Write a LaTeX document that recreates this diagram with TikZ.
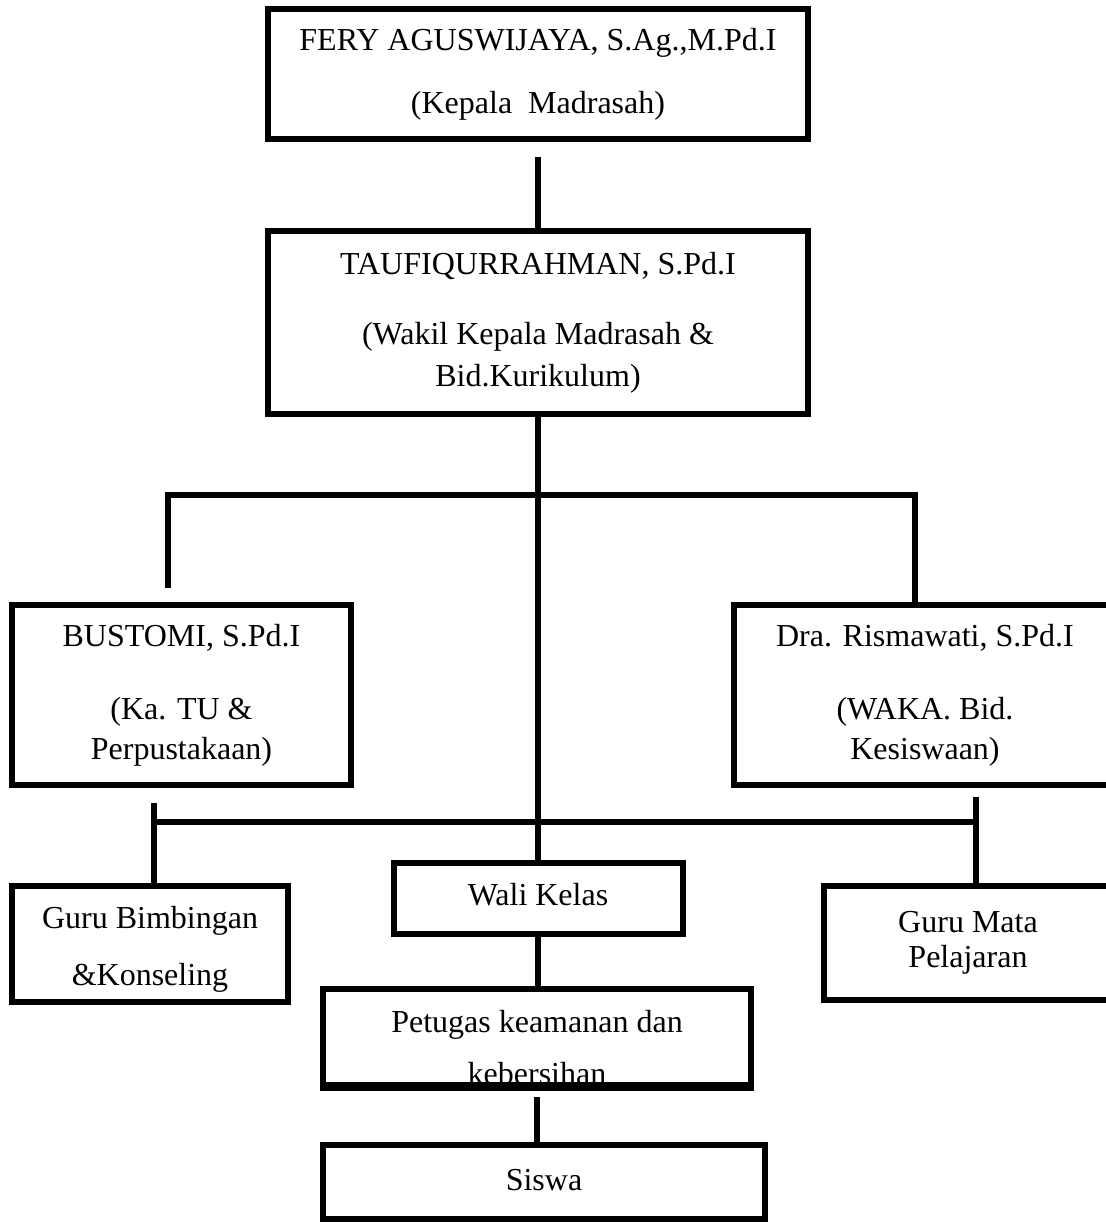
\documentclass[tikz,border=0pt]{standalone}
\usepackage{fontspec}
\setmainfont{Liberation Serif}
\newcommand{\orgfont}{\fontsize{16}{19}\selectfont}
\tikzset{
    orgbox/.style={draw, line width=3pt, align=center, inner sep=0pt, font=\orgfont},
    link/.style={line width=3pt}
}
\begin{document}
\begin{tikzpicture}[x=0.5pt, y=-0.5pt]
            \useasboundingbox (0, 0) rectangle (1105, 1222);

            % pimpinan
            \node[orgbox, minimum width=270pt, minimum height=65pt] (kepala) at (538, 74)
                {FERY AGUSWIJAYA, S.Ag.,M.Pd.I\\[12.5pt](Kepala~~Madrasah)};
            \node[orgbox, minimum width=270pt, minimum height=91.5pt] (wakil) at (538, 322.5)
                {TAUFIQURRAHMAN, S.Pd.I\\[16pt](Wakil Kepala Madrasah \&\\[2pt]Bid.Kurikulum)};

            % staf
            \node[orgbox, minimum width=169.5pt, minimum height=90pt] (tu) at (181.5, 695)
                {BUSTOMI, S.Pd.I\\[17.5pt](Ka. TU \&\\[1pt]Perpustakaan)};
            \node[orgbox, minimum width=191pt, minimum height=90pt] (kesiswaan) at (925, 695)
                {Dra. Rismawati, S.Pd.I\\[17.5pt](WAKA. Bid.\\[1pt]Kesiswaan)};

            % guru
            \node[orgbox, minimum width=138pt, minimum height=58pt] (bk) at (150, 944)
                {\rule{0pt}{16pt}Guru Bimbingan\\[9.5pt]\&Konseling};
            \node[orgbox, minimum width=144.5pt, minimum height=35.5pt] (walikelas) at (538, 898.5)
                {\rule[-4pt]{0pt}{4pt}Wali Kelas};
            \node[orgbox, minimum width=144pt, minimum height=57pt] (mapel) at (968, 943)
                {\rule[-3pt]{0pt}{3pt}Guru Mata\\[-1.5pt]Pelajaran};
            \node[orgbox, minimum width=214pt, minimum height=48pt] (petugas) at (537, 1037)
                {\rule{0pt}{22pt}Petugas keamanan dan\\[7pt]kebersihan};
            \draw[link] (petugas.south west) -- (petugas.south east);
            \node[orgbox, minimum width=221pt, minimum height=37pt] (siswa) at (544, 1182)
                {\rule[-2pt]{0pt}{2pt}Siswa};

            % garis
            \coordinate (kepalaGap) at (538, 157);
            \draw[link] (kepalaGap) -- (wakil.north);
            \draw[link] (wakil.south) -- (wakil.south |- walikelas.north);

            \coordinate (atasKiri) at (168, 495);
            \coordinate (atasKanan) at (915, 495);
            \coordinate (tuGap) at (168, 588);
            \draw[link] (tuGap) -- (atasKiri) -- (atasKanan) -- (atasKanan |- kesiswaan.north);

            \coordinate (bawahKiri) at (154, 822);
            \coordinate (bawahKanan) at (976, 822);
            \coordinate (tuGapBawah) at (154, 803);
            \coordinate (kesiswaanGap) at (976, 797);
            \draw[link] (bawahKiri) -- (bawahKanan);
            \draw[link] (tuGapBawah) -- (tuGapBawah |- bk.north);
            \draw[link] (kesiswaanGap) -- (kesiswaanGap |- mapel.north);

            \draw[link] (walikelas.south) -- (walikelas.south |- petugas.north);
            \coordinate (petugasGap) at (537, 1097);
            \draw[link] (petugasGap) -- (petugasGap |- siswa.north);
        \end{tikzpicture}
\end{document}
